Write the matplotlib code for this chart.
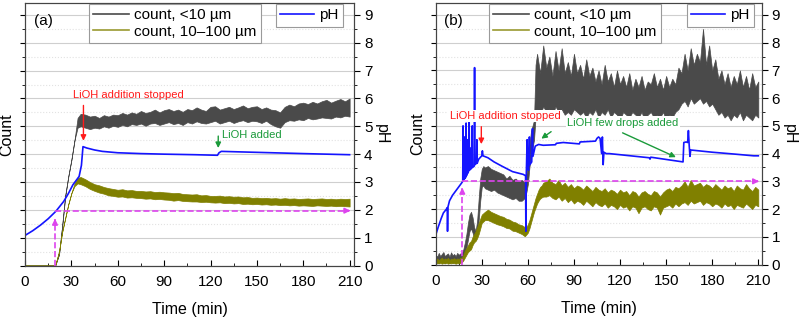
import numpy as np
import matplotlib.pyplot as plt
from matplotlib.lines import Line2D
from matplotlib.ticker import MultipleLocator

plt.rcParams['font.family'] = ['Liberation Sans', 'DejaVu Sans']
plt.rcParams['font.size'] = 11

GRAY = '#4a4a4a'
OLIVE = '#808000'
BLUE = '#1414ff'
MAGENTA = '#dd44ee'
RED = '#ff1a1a'
GREEN = '#1a9a3a'

# ---------------- panel (a) ----------------
# sample times (min): onset, rise, then every 3 min
time_a = [0, 19.5, 22, 24, 26, 28, 30, 32, 34] + list(range(36, 211, 3))

small_a_lo = [0, 0, 0.4, 1.4, 2.5, 3.2, 3.8, 4.5, 4.95,
              5.0, 4.95, 4.9, 4.95, 4.92, 5.0, 4.95, 5.02, 4.98, 5.05,
              5.0, 5.08, 5.05, 5.1, 5.02, 5.1, 5.12, 5.05, 5.1, 5.15,
              5.08, 5.12, 5.05, 5.15, 5.1, 5.18, 5.12, 5.1, 5.15, 5.2,
              5.1, 5.15, 5.2, 5.12, 5.18, 5.22, 5.15, 5.2, 5.18, 5.12,
              5.2, 5.08, 5.0, 4.95, 5.15, 5.22, 5.2, 5.25, 5.22, 5.3,
              5.25, 5.28, 5.32, 5.3, 5.28, 5.35, 5.32, 5.38, 5.35]
small_a_hi = [0, 0, 0.4, 1.4, 2.5, 3.2, 3.8, 4.5, 5.3,
              5.45, 5.42, 5.35, 5.38, 5.3, 5.4, 5.35, 5.42, 5.4, 5.48,
              5.42, 5.5, 5.45, 5.55, 5.48, 5.52, 5.6, 5.5, 5.58, 5.62,
              5.55, 5.6, 5.52, 5.62, 5.58, 5.68, 5.6, 5.55, 5.7, 5.72,
              5.6, 5.65, 5.7, 5.62, 5.68, 5.75, 5.65, 5.7, 5.72, 5.62,
              5.68, 5.6, 5.58, 5.5, 5.7, 5.78, 5.72, 5.82, 5.85, 5.8,
              5.88, 5.82, 5.9, 5.95, 5.85, 5.92, 5.98, 5.9, 6.0]
big_a_lo = [0, 0, 0.5, 1.2, 1.7, 2.2, 2.6, 2.85, 2.95,
            2.92, 2.85, 2.75, 2.68, 2.62, 2.58, 2.52, 2.5, 2.47, 2.48,
            2.44, 2.45, 2.43, 2.42, 2.4, 2.41, 2.38, 2.39, 2.37, 2.36,
            2.33, 2.35, 2.32, 2.31, 2.3, 2.3, 2.28, 2.29, 2.27, 2.26,
            2.27, 2.24, 2.25, 2.23, 2.24, 2.21, 2.22, 2.2, 2.21, 2.19,
            2.2, 2.18, 2.19, 2.17, 2.18, 2.16, 2.17, 2.15, 2.16, 2.15,
            2.14, 2.16, 2.15, 2.14, 2.15, 2.13, 2.14, 2.13, 2.12]
big_a_hi = [0, 0, 0.5, 1.2, 1.7, 2.2, 2.6, 2.95, 3.15,
            3.18, 3.1, 3.0, 2.92, 2.88, 2.82, 2.78, 2.75, 2.72, 2.74,
            2.7, 2.71, 2.68, 2.68, 2.66, 2.67, 2.64, 2.65, 2.63, 2.62,
            2.6, 2.61, 2.57, 2.56, 2.55, 2.56, 2.52, 2.53, 2.5, 2.5,
            2.51, 2.48, 2.49, 2.47, 2.48, 2.45, 2.46, 2.43, 2.44, 2.42,
            2.43, 2.41, 2.42, 2.4, 2.42, 2.4, 2.41, 2.39, 2.4, 2.41,
            2.39, 2.4, 2.41, 2.39, 2.4, 2.38, 2.4, 2.39, 2.4]

ph_time_a = [0, 5, 10, 15, 20, 25, 28, 31, 33, 35, 36.5, 37.5, 40, 45, 50, 60,
             75, 90, 110, 124.5, 125.5, 127, 140, 160, 180, 210]
ph_a = [1.08, 1.25, 1.45, 1.68, 1.95, 2.3, 2.58, 2.9, 3.05, 3.2, 3.6, 4.27, 4.22,
        4.15, 4.1, 4.05, 4.02, 4.0, 3.98, 3.96, 4.05, 4.1, 4.08, 4.05, 4.02, 3.98]

# ---------------- panel (b) ----------------
time_b_small = (list(range(0, 17)) + list(range(17, 32)) + list(range(32, 59, 2))
                + list(range(59, 66)) + list(range(66, 211, 2)))
small_b_lo = [0.05, 0.08, 0.05, 0.1, 0.06, 0.08, 0.05, 0.1, 0.07, 0.05, 0.09, 0.06, 0.08, 0.05, 0.1, 0.07, 0.08,
              0.1, 0.2, 0.4, 0.6, 0.9, 1.2, 1.3, 1.15, 0.95, 0.9, 1.1, 1.6, 2.3, 2.8, 2.85,
              2.75, 2.7, 2.65, 2.7, 2.6, 2.55, 2.5, 2.45, 2.4, 2.35, 2.4, 2.3, 2.3, 2.4,
              2.6, 2.9, 3.5, 3.9, 4.2, 4.5, 5.3,
              5.6, 5.4, 5.7, 5.5, 5.6, 5.4, 5.7, 5.5, 5.6, 5.4,
              5.5, 5.4, 5.6, 5.5, 5.4, 5.5, 5.3, 5.5, 5.4, 5.6,
              5.3, 5.5, 5.4, 5.6, 5.3, 5.5, 5.4, 5.2, 5.5, 5.4,
              5.3, 5.5, 5.4, 5.3, 5.5, 5.2, 5.4, 5.5, 5.3, 5.4,
              5.3, 5.5, 5.2, 5.4, 5.3, 5.5, 5.6, 5.8, 5.9, 5.7,
              6.0, 5.8, 5.9, 6.0, 5.8, 5.9, 5.7, 5.8, 5.6, 5.4,
              5.5, 5.3, 5.4, 5.2, 5.4, 5.3, 5.5, 5.2, 5.4, 5.3,
              5.2, 5.4, 5.3]
small_b_hi = [0.35, 0.28, 0.42, 0.3, 0.38, 0.45, 0.3, 0.36, 0.4, 0.28, 0.44, 0.33, 0.38, 0.3, 0.42, 0.35, 0.4,
              0.4, 0.55, 0.8, 1.1, 1.5, 1.8, 1.9, 1.7, 1.35, 1.2, 1.6, 2.4, 3.1, 3.45, 3.55,
              3.5, 3.55, 3.45, 3.4, 3.35, 3.3, 3.25, 3.1, 3.2, 3.05, 3.1, 3.0, 3.05, 2.95,
              3.2, 3.8, 4.3, 4.8, 5.0, 5.2, 7.2,
              7.6, 6.9, 7.9, 7.1, 7.5, 6.8, 7.7, 7.0, 7.8, 6.9,
              7.3, 6.8, 7.6, 6.9, 7.2, 6.7, 7.4, 6.8, 7.1, 6.6,
              7.0, 6.5, 7.2, 6.6, 6.9, 6.4, 7.0, 6.5, 6.8, 6.4,
              6.9, 6.3, 6.7, 6.4, 6.8, 6.3, 6.6, 6.5, 6.9, 6.4,
              6.7, 6.3, 6.8, 6.4, 6.7, 6.5, 7.1, 6.9, 7.6, 7.0,
              7.8, 7.2, 7.6, 7.3, 8.5, 7.2, 7.9, 7.0, 7.4, 6.7,
              7.0, 6.5, 6.9, 6.4, 6.8, 6.5, 7.0, 6.4, 6.8, 6.3,
              6.9, 6.4, 6.6]

time_b_big = (list(range(0, 17)) + list(range(17, 31)) + list(range(32, 59, 2))
              + list(range(59, 71)) + list(range(72, 211, 2)))
big_b_lo = [0.03, 0.05, 0.04, 0.06, 0.03, 0.05, 0.04, 0.06, 0.03, 0.05, 0.04, 0.06, 0.05, 0.03, 0.05, 0.04, 0.06,
            0.08, 0.15, 0.25, 0.35, 0.45, 0.5, 0.55, 0.7, 0.8, 0.85, 0.95, 1.1, 1.3, 1.5,
            1.6, 1.6, 1.55, 1.5, 1.45, 1.42, 1.38, 1.32, 1.3, 1.22, 1.2, 1.15, 1.1, 1.02,
            1.08, 1.15, 1.3, 1.5, 1.7, 1.9, 2.05, 2.2, 2.3, 2.38, 2.42, 2.45,
            2.45, 2.5, 2.4, 2.35, 2.45, 2.3, 2.4, 2.25, 2.35, 2.2,
            2.3, 2.25, 2.15, 2.3, 2.2, 2.1, 2.25, 2.15, 2.1, 2.2,
            2.05, 2.15, 2.1, 2.0, 2.15, 2.05, 2.1, 1.95, 2.1, 2.05,
            1.85, 2.05, 2.1, 2.0, 1.95, 2.1, 2.05, 1.8, 2.05, 2.1,
            2.15, 2.05, 2.2, 2.1, 2.2, 2.25, 2.15, 2.3, 2.2, 2.25,
            2.3, 2.15, 2.25, 2.2, 2.1, 2.2, 2.15, 2.05, 2.2, 2.1,
            2.15, 2.0, 2.15, 2.1, 2.05, 2.2, 2.1, 2.0, 2.15, 2.1]
big_b_hi = [0.18, 0.22, 0.15, 0.2, 0.25, 0.17, 0.22, 0.19, 0.24, 0.16, 0.21, 0.2, 0.23, 0.18, 0.22, 0.2, 0.24,
            0.25, 0.35, 0.5, 0.6, 0.7, 0.8, 0.85, 1.0, 1.1, 1.2, 1.35, 1.5, 1.65, 1.8,
            1.9, 1.98, 1.9, 1.85, 1.8, 1.75, 1.72, 1.65, 1.62, 1.55, 1.52, 1.45, 1.42, 1.35,
            1.35, 1.45, 1.6, 1.8, 2.0, 2.2, 2.4, 2.55, 2.7, 2.8, 2.85, 2.95,
            3.0, 3.1, 2.95, 2.9, 3.05, 2.85, 2.95, 2.8, 2.9, 2.75,
            2.85, 2.8, 2.7, 2.85, 2.75, 2.65, 2.8, 2.7, 2.65, 2.75,
            2.6, 2.7, 2.65, 2.55, 2.7, 2.6, 2.65, 2.5, 2.65, 2.6,
            2.45, 2.6, 2.65, 2.55, 2.5, 2.65, 2.6, 2.45, 2.6, 2.7,
            2.75, 2.65, 2.8, 2.75, 2.85, 3.0, 2.8, 3.05, 2.85, 2.9,
            2.95, 2.8, 2.9, 2.85, 2.75, 2.9, 2.8, 2.7, 2.85, 2.75,
            2.8, 2.65, 2.85, 2.75, 2.7, 2.9, 2.75, 2.65, 2.8, 2.7]

ph_time_b = [0, 1.7, 3.5, 5, 7, 7.5, 7.7, 8, 9, 11, 13, 15, 17,
             17.6, 17.8, 18.0, 18.6, 18.8, 19.0, 19.6, 19.8, 20.0, 20.6, 20.8, 21.0,
             21.6, 21.8, 22.0, 22.6, 22.8, 23.0, 23.6, 23.8, 24.0, 25.1, 25.3, 25.5,
             26.6, 26.8, 27.0, 28, 30, 30.4, 30.8, 34, 38, 43, 50, 57,
             58.5, 58.7, 59.0, 59.5, 59.8, 60.5, 61.0, 61.3, 62.5, 63.0, 63.3,
             64.8, 67, 70, 78, 78.5, 83, 93.5, 94, 104, 105, 106, 107, 108,
             108.5, 109, 109.5, 111, 113, 139, 139.5, 140,
             161, 161.5, 163, 164, 164.5, 165, 165.5, 166, 180, 195, 207, 210]
ph_b = [1.06, 1.36, 1.65, 1.86, 2.0, 2.05, 1.2, 2.08, 2.3, 2.5, 2.65, 2.8, 2.95,
        3.0, 5.0, 3.05, 3.1, 4.6, 3.1, 3.15, 5.1, 3.2, 3.3, 4.5, 3.3,
        3.4, 5.2, 3.4, 3.45, 4.2, 3.45, 3.5, 5.0, 3.5, 3.55, 7.1, 3.6,
        3.65, 4.5, 3.65, 3.8, 3.92, 4.1, 3.92, 3.85, 3.7, 3.55, 3.35, 3.25,
        3.2, 1.2, 3.3, 4.5, 3.5, 3.4, 4.6, 3.6, 3.7, 4.9, 3.9,
        4.27, 4.33, 4.3, 4.32, 4.37, 4.4, 4.35, 4.42, 4.45, 4.55, 4.6, 4.55, 4.0,
        4.6, 3.6, 4.05, 4.0, 4.0, 3.85, 3.8, 3.87,
        3.7, 4.4, 4.42, 4.4, 4.83, 4.3, 3.9, 4.13, 4.05, 3.98, 3.92, 3.92]

# onset time and threshold level of the magenta guides
onset_a, level_a = 19.4, 1.97
onset_b, level_b = 17.3, 3.0

YMAX = 9.43


def setup_panel(ax, xmax, tag):
    ax.set_xlim(0, xmax)
    ax.set_ylim(0, YMAX)
    ax.xaxis.set_major_locator(MultipleLocator(30))
    ax.xaxis.set_minor_locator(MultipleLocator(15))
    ax.yaxis.set_major_locator(MultipleLocator(1))
    ax.yaxis.set_minor_locator(MultipleLocator(0.5))
    ax.tick_params(axis='x', which='major', direction='in', length=4, labelsize=11, pad=7)
    ax.tick_params(axis='x', which='minor', direction='in', length=2.5)
    ax.tick_params(axis='y', which='both', left=False, labelleft=False)
    ax.grid(axis='y', which='major', color='#cfcfcf', lw=0.8)
    ax.grid(axis='y', which='minor', color='#e2e2e2', lw=0.8, ls=':')
    ax.set_axisbelow(True)
    for s in ax.spines.values():
        s.set_color('#444444')
    ax.set_xlabel('Time (min)', fontsize=11.5, labelpad=9)
    ax.set_ylabel('Count', fontsize=11.5, labelpad=4)
    ax.text(0.055, 0.93, tag, transform=ax.transAxes, fontsize=11, ha='center', va='center')

    ax2 = ax.twinx()
    ax2.set_ylim(0, YMAX)
    ax2.yaxis.set_major_locator(MultipleLocator(1))
    ax2.yaxis.set_minor_locator(MultipleLocator(0.5))
    ax2.tick_params(axis='y', which='major', direction='out', length=4, labelsize=11, pad=3)
    ax2.tick_params(axis='y', which='minor', direction='out', length=2.5)
    for s in ax2.spines.values():
        s.set_color('#444444')
    ax2.set_ylabel('pH', fontsize=11.5, rotation=270, va='bottom', labelpad=1)
    return ax2


def legends(ax2, x_left, x_right):
    h1 = [Line2D([], [], color=GRAY, lw=1.2), Line2D([], [], color='#9a9a30', lw=1.2)]
    leg1 = ax2.legend(h1, ['count, <10 µm', 'count, 10–100 µm'], loc='upper left',
                      bbox_to_anchor=(x_left, 0.997), fancybox=False, framealpha=1,
                      edgecolor='#9a9a9a', borderpad=0.3, labelspacing=0.15,
                      handlelength=2.3, handletextpad=0.35, borderaxespad=0, fontsize=11)
    leg1.get_frame().set_linewidth(0.8)
    ax2.add_artist(leg1)
    leg2 = ax2.legend([Line2D([], [], color=BLUE, lw=1.2)], ['pH'], loc='upper right',
                      bbox_to_anchor=(x_right, 0.997), fancybox=False, framealpha=1,
                      edgecolor='#9a9a9a', borderpad=0.3, handlelength=2.2,
                      handletextpad=0.35, borderaxespad=0, fontsize=11)
    leg2.get_frame().set_linewidth(0.8)


def guides(ax, onset, level, tip):
    ax.plot([onset, onset], [0, tip - 0.1], color=MAGENTA, ls='--', lw=1.2, zorder=5)
    ax.annotate('', xy=(onset, tip), xytext=(onset, tip - 0.35),
                arrowprops=dict(arrowstyle='-|>', color=MAGENTA, lw=1.2, mutation_scale=8), zorder=5)
    ax.plot([onset, 208.5], [level, level], color=MAGENTA, ls='--', lw=1.2, zorder=5)
    ax.annotate('', xy=(210.5, level), xytext=(207, level),
                arrowprops=dict(arrowstyle='-|>', color=MAGENTA, lw=1.2, mutation_scale=8), zorder=5)


def arrow(ax, x0, y0, x1, y1, color):
    ax.annotate('', xy=(x1, y1), xytext=(x0, y0),
                arrowprops=dict(arrowstyle='-|>', color=color, lw=1.0, mutation_scale=8))


fig = plt.figure(figsize=(7.99, 3.19), dpi=100)
ax_a = fig.add_axes([0.0313, 0.1677, 0.4121, 0.8229])
ax_b = fig.add_axes([0.5453, 0.1708, 0.4084, 0.8197])

# panel (a)
ax_a.fill_between(time_a, small_a_lo, small_a_hi, color=GRAY, lw=0.5)
ax_a.fill_between(time_a, big_a_lo, big_a_hi, color=OLIVE, lw=0.5)
ax2_a = setup_panel(ax_a, 213, '(a)')
ax2_a.plot(ph_time_a, ph_a, color=BLUE, lw=1.2)
guides(ax2_a, onset_a, level_a, 1.78)
ax2_a.text(66.7, 6.13, 'LiOH addition stopped', color=RED, fontsize=8, ha='center', va='center')
arrow(ax2_a, 37.8, 5.85, 37.8, 4.38, RED)
ax2_a.text(147, 4.69, 'LiOH added', color=GREEN, fontsize=8, ha='center', va='center')
arrow(ax2_a, 125, 4.75, 125, 4.12, GREEN)
legends(ax2_a, 0.194, 0.966)

# panel (b)
ax_b.fill_between(time_b_small, small_b_lo, small_b_hi, color=GRAY, lw=0.5)
ax_b.fill_between(time_b_big, big_b_lo, big_b_hi, color=OLIVE, lw=0.5)
ax2_b = setup_panel(ax_b, 212.4, '(b)')
ax2_b.plot(ph_time_b, ph_b, color=BLUE, lw=1.2)
guides(ax2_b, onset_b, level_b, 2.87)
ax2_b.text(45.1, 5.36, 'LiOH addition stopped', color=RED, fontsize=8, ha='center', va='center',
           bbox=dict(facecolor='white', edgecolor='none', pad=1))
arrow(ax2_b, 29.7, 5.07, 29.7, 4.24, RED)
ax2_b.text(122, 5.12, 'LiOH few drops added', color=GREEN, fontsize=8, ha='center', va='center',
           bbox=dict(facecolor='white', edgecolor='none', pad=1))
arrow(ax2_b, 76.6, 4.85, 67.3, 4.48, GREEN)
arrow(ax2_b, 120, 4.79, 158, 3.83, GREEN)
legends(ax2_b, 0.163, 0.9755)

fig.savefig('out.png', dpi=100)
